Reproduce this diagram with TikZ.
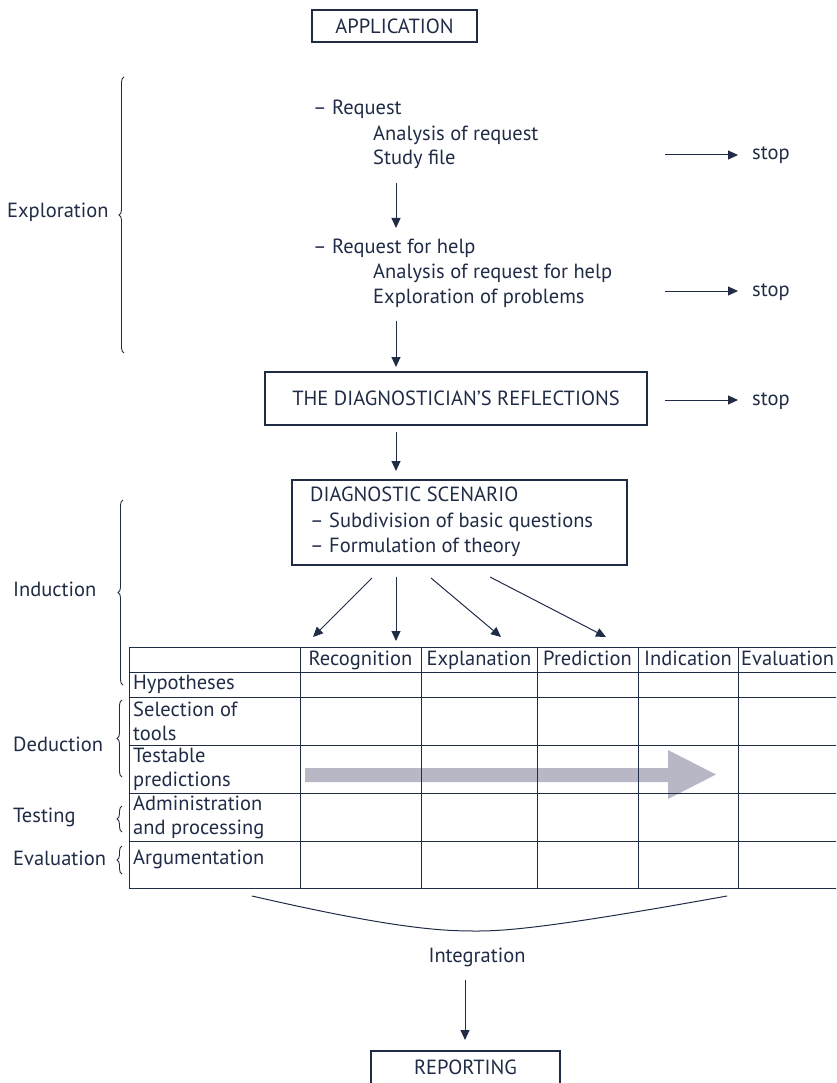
\documentclass[tikz,border=0pt]{standalone}
\usepackage{fontspec}
\setmainfont{PT Sans}
\usetikzlibrary{arrows.meta,decorations.pathreplacing}
\definecolor{ink}{RGB}{32,44,70}
\definecolor{graybar}{RGB}{183,183,197}
\begin{document}
\begin{tikzpicture}[x=1pt,y=-1pt,
  every node/.style={text=ink,font=\fontsize{20.5}{24}\selectfont},
  txt/.style={inner sep=0pt,anchor=west,text height=14.5pt,text depth=4.5pt},
  ctxt/.style={inner sep=0pt,text height=14.5pt,text depth=4.5pt},
  boxed/.style={draw=ink,line width=1.1pt,inner sep=0pt},
  conn/.style={draw=ink,line width=1pt,-{Triangle[length=10pt,width=9pt]}},
  brc/.style={draw=ink,line width=0.9pt,decorate,decoration={brace,amplitude=5pt}},
  grid/.style={draw=ink,line width=1pt}]
\useasboundingbox (0,0) rectangle (836,1083);
\begin{scope}
\clip (0,0) rectangle (836,1083);
% top
\node[boxed,minimum width=165pt,minimum height=32pt] (app) at (394.5,26) {APPLICATION};

\node[txt] (req) at (313,110) {– Request};
\node[txt] (anreq) at (373,136) {Analysis of request};
\node[txt] (study) at (373,160) {Study file};
\node[txt] (stop1) at (752,155) {stop};
\coordinate (s1) at (665,155);
\draw[conn] (s1) -- ([xshift=-14pt]stop1.west);

\coordinate (d1a) at (396,183);
\coordinate (d1b) at (396,228);
\draw[conn] (d1a) -- (d1b);

\node[txt] (reqh) at (313,248) {– Request for help};
\node[txt] (anreqh) at (373,273) {Analysis of request for help};
\node[txt] (explp) at (373,298) {Exploration of problems};
\node[txt] (stop2) at (752,291) {stop};
\coordinate (s2) at (665,291);
\draw[conn] (s2) -- ([xshift=-14pt]stop2.west);

\coordinate (d2a) at (396,321);
\coordinate (d2b) at (396,367);
\draw[conn] (d2a) -- (d2b);

\node[boxed,minimum width=382pt,minimum height=53pt] (refl) at (456,398.5) {THE DIAGNOSTICIAN’S REFLECTIONS};
\node[txt] (stop3) at (752,400) {stop};
\coordinate (s3) at (665,400);
\draw[conn] (s3) -- ([xshift=-14pt]stop3.west);

\coordinate (d3a) at (396,432);
\coordinate (d3b) at (396,471);
\draw[conn] (d3a) -- (d3b);

\node[boxed,minimum width=335pt,minimum height=85pt] (scen) at (459.5,522.5) {};
\node[txt] (scen1) at (310,496) {DIAGNOSTIC SCENARIO};
\node[txt] (scen2) at (310,522) {– Subdivision of basic questions};
\node[txt] (scen3) at (310,547) {– Formulation of theory};

\coordinate (a1s) at (372,578); \coordinate (a1e) at (313,637);
\coordinate (a2s) at (396,577); \coordinate (a2e) at (396,641);
\coordinate (a3s) at (431,578); \coordinate (a3e) at (501,637);
\coordinate (a4s) at (490,577); \coordinate (a4e) at (606,637);
\draw[conn] (a1s) -- (a1e);
\draw[conn] (a2s) -- (a2e);
\draw[conn] (a3s) -- (a3e);
\draw[conn] (a4s) -- (a4e);

% braces and phase labels
\draw[brc] (124,353) -- (124,77);
\node[txt] (lexp) at (7,213) {Exploration};
\draw[brc] (123,685) -- (123,500);
\node[txt] (lind) at (13,591) {Induction};
\draw[brc] (122,777) -- (122,700);
\node[txt] (lded) at (13,746) {Deduction};
\draw[brc] (122,832) -- (122,806);
\node[txt] (ltest) at (13,817) {Testing};
\draw[brc] (122,874) -- (122,846);
\node[txt] (leval) at (13,860) {Evaluation};

% gray arrow
\fill[graybar] (305,768) -- (668,768) -- (668,750) -- (716,774.5) -- (668,799) -- (668,782) -- (305,782) -- cycle;

% table
\foreach \y in {647,672,697,745,793,841,888} \draw[grid] (129,\y) -- (840,\y);
\foreach \x in {129,300,421,537,638,738} \draw[grid] (\x,647) -- (\x,888);

\node[ctxt] (hrec) at (360.5,660) {Recognition};
\node[ctxt] (hexp) at (479,660) {Explanation};
\node[ctxt] (hpre) at (587.5,660) {Prediction};
\node[ctxt] (hind) at (688,660) {Indication};
\node[txt] (heva) at (741,660) {Evaluation};

\node[txt] (rhyp) at (133,684.5) {Hypotheses};
\node[txt,align=left,text height=,text depth=] (rsel) at (133,721) {Selection of\\tools};
\node[txt,align=left,text height=,text depth=] (rtes) at (133,769) {Testable\\predictions};
\node[txt,align=left,text height=,text depth=] (radm) at (133,817) {Administration\\and processing};
\node[txt] (rarg) at (133,859) {Argumentation};

% integration
\draw[draw=ink,line width=1pt] (252,896) .. controls (400,930) and (445,931) .. (477,931) .. controls (510,931) and (560,926) .. (727,896);
\node[ctxt] (integ) at (477,957) {Integration};
\coordinate (i1) at (465,980);
\coordinate (i2) at (465,1040);
\draw[conn] (i1) -- (i2);
\node[boxed,minimum width=189pt,minimum height=40pt] (rep) at (465.5,1071) {};
\node[ctxt] (rept) at (465.5,1069) {REPORTING};
\end{scope}
\end{tikzpicture}
\end{document}
